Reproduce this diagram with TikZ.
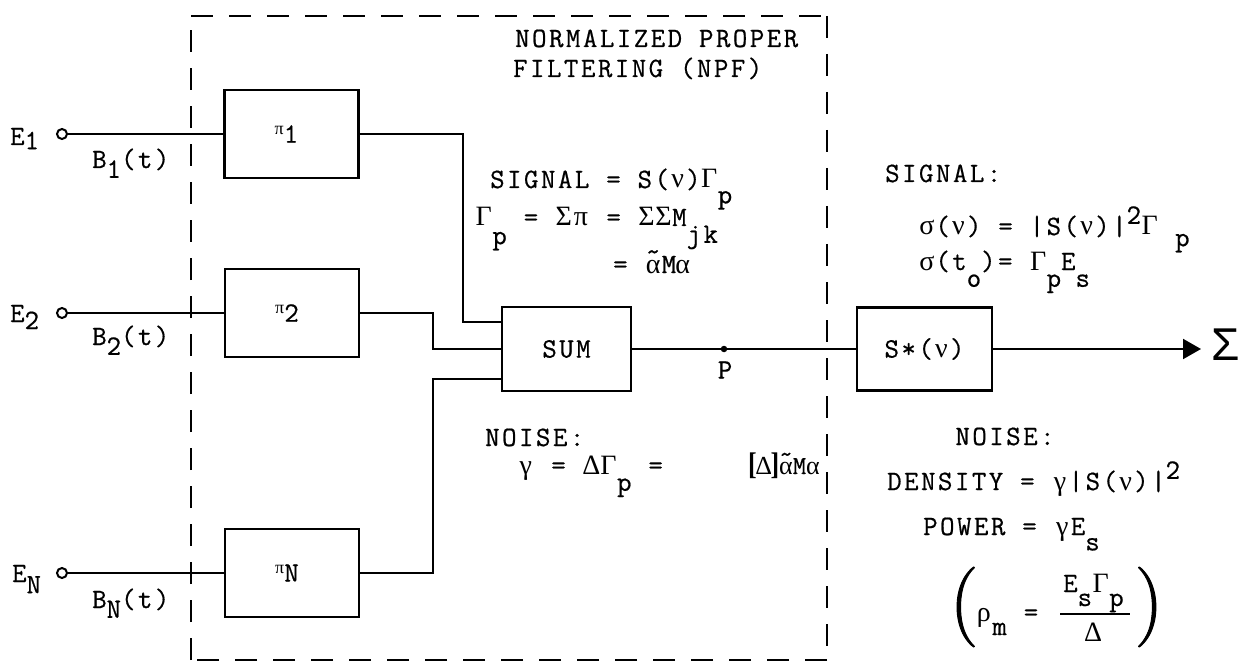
\documentclass[tikz,border=0pt]{standalone}
\usepackage{fontspec}
\usepackage{newunicodechar}
\setmainfont{Latin Modern Mono}[LetterSpace=9, FakeBold=0.6]
\newfontfamily\ttn{Latin Modern Mono}[FakeBold=0.6]
\newfontfamily\gkf{Liberation Serif}
\newfontfamily\lmr{Latin Modern Roman}[FakeBold=1.2]
\newfontfamily\sansbig{Liberation Sans}
\newdimen\cellw \cellw=17.2pt
\newcommand\g[1]{\makebox[\cellw]{\gkf #1}}
\newunicodechar{Γ}{\g{\symbol{"0393}}}
\newunicodechar{Σ}{\g{\symbol{"03A3}}}
\newunicodechar{π}{\g{\symbol{"03C0}}}
\newunicodechar{ν}{\g{\symbol{"03BD}}}
\newunicodechar{σ}{\g{\symbol{"03C3}}}
\newunicodechar{γ}{\g{\symbol{"03B3}}}
\newunicodechar{Δ}{\g{\symbol{"0394}}}
\newunicodechar{α}{\g{\symbol{"03B1}}}
\newunicodechar{ρ}{\g{\symbol{"03C1}}}
\usetikzlibrary{arrows.meta}
\newcommand\lo[2][0.55em]{\raisebox{-#1}{#2}}
\newcommand\hi[2][0.4em]{\raisebox{#1}{#2}}
\newcommand\tal{\makebox[0pt][l]{\makebox[\cellw]{\raisebox{0.45em}{\ttn\textasciitilde}}}α}
\newcommand\tw{\fontsize{28}{32}\selectfont}
\newcommand\spi{\raisebox{0.3em}{\gkf\fontsize{18}{18}\selectfont\symbol{"03C0}}}
\newcommand\bbr[1]{\scalebox{1}[1.2]{\gkf\bfseries #1}}
\begin{document}
\begin{tikzpicture}[x=1pt,y=-1pt,
  box/.style={draw, line width=2.4pt, minimum width=134pt, minimum height=88pt, inner sep=0pt, font=\tw},
  txt/.style={inner sep=0pt, anchor=base west, font=\tw},
  wire/.style={line width=2pt},
  dbox/.style={line width=2.2pt, dash pattern=on 22pt off 16pt},
  term/.style={circle, draw, line width=2pt, minimum size=10pt, inner sep=0pt},
  bigpar/.style={inner sep=0pt, font=\lmr\fontsize{80}{80}\selectfont}]
\useasboundingbox (0,0) rectangle (1244,668);
\fill[white] (0,0) rectangle (1244,668);

% dashed enclosure
\draw[dbox] (191,16) -- (827,16);
\draw[dbox] (827,16) -- (827,660);
\draw[dbox] (827,660) -- (191,660);
\draw[dbox] (191,660) -- (191,16);

% terminals and labels
\node[term] (e1) at (62,134) {};
\node[term] (e2) at (62,313) {};
\node[term] (eN) at (62,573) {};
\node[txt] (le1) at (10,145) {E\lo[0.15em]{1}};
\node[txt] (le2) at (10,322) {E\lo[0.25em]{2}};
\node[txt] (leN) at (12,582) {E\lo[0.4em]{N}};
\node[txt] (lb1) at (92,168) {B\lo[0.35em]{1}(t)};
\node[txt] (lb2) at (92,345) {B\lo[0.35em]{2}(t)};
\node[txt] (lbN) at (92,608) {B\lo[0.35em]{N}(t)};

% blocks
\node[box] (p1) at (291.5,134) {\spi 1\kern10pt};
\node[box] (p2) at (292,313) {\spi 2\kern10pt};
\node[box] (pN) at (292,573) {\spi N\kern10pt};
\node[box, minimum width=129pt, minimum height=84pt] (sum) at (566.5,349) {SUM};
\node[box, minimum width=135pt, minimum height=83pt] (sst) at (924.5,349) {S*(ν)};
\node[circle, fill, inner sep=0pt, minimum size=6.5pt] (P) at (724,349) {};
\node[inner sep=0pt, font=\tw] (lP) at (725,370) {P};
\node[inner sep=0pt, anchor=west, font=\sansbig\fontsize{46}{46}\selectfont] (sig) at (1211,345) {\symbol{"03A3}};

% wires
\coordinate (j1) at (463,322);
\coordinate (j2) at (433,349);
\coordinate (j3) at (433,379);
\draw[wire] (e1) -- (p1);
\draw[wire] (e2) -- (p2);
\draw[wire] (eN) -- (pN);
\draw[wire] (p1.east) -| (j1) -- (j1 -| sum.west);
\draw[wire] (p2.east) -| (j2) -- (sum.west);
\draw[wire] (pN.east) -| (j3) -- (j3 -| sum.west);
\draw[wire] (sum.east) -- (P) -- (sst.west);
\draw[wire, -{Triangle[length=18pt,width=20pt]}, shorten >=10pt] (sst.east) -- (sst.east -| sig.west);

% NPF texts
\node[txt] (t1) at (515,47) {NORMALIZED PROPER};
\node[txt] (t2) at (513,77) {FILTERING (NPF)};
\node[txt] (t3) at (490,188) {SIGNAL = S(ν)Γ\lo{p}};
\node[txt] (t4) at (475,226) {Γ\lo[0.65em]{p} = Σπ = ΣΣM\lo[0.6em]{jk}};
\node[txt] (t5) at (613,273) {= \tal M\kern-2ptα};
\node[txt] (t6) at (485,446) {NOISE:};
\node[txt] (t7) at (517,474) {γ = ΔΓ\lo[0.6em]{p} =};
\node[txt, font=\ttn\fontsize{26}{30}\selectfont] (t8) at (748,474) {\cellw=13.65pt\bbr{[}Δ\bbr{]}\tal Mα};

% output texts
\node[txt] (r1) at (885,182) {SIGNAL:};
\node[txt] (r2) at (918,235) {σ(ν) = |S(ν)|\hi{2}Γ \lo[0.4em]{p}};
\node[txt] (r3) at (918,270) {σ(t\lo[0.6em]{o})= Γ\lo[0.6em]{p}E\lo[0.6em]{s}};
\node[txt, anchor=base] (r4) at (1005,445) {NOISE:};
\node[txt] (r5) at (887,490) {DENSITY = γ|S(ν)|\hi{2}};
\node[txt] (r6) at (923,535) {POWER = γE\lo{s}};
\node[bigpar] (lpar) at (964,607) {(};
\node[bigpar] (rpar) at (1149,607) {)};
\node[txt] (rho) at (975,621) {ρ\lo[0.5em]{m} =};
\node[txt] (num) at (1063,592) {E\lo[0.5em]{s}Γ\lo[0.5em]{p}};
\draw[line width=2pt] (1060,614) -- (1130,614);
\node[inner sep=0pt, font=\tw] (den) at (1093,632) {Δ};
\end{tikzpicture}
\end{document}
